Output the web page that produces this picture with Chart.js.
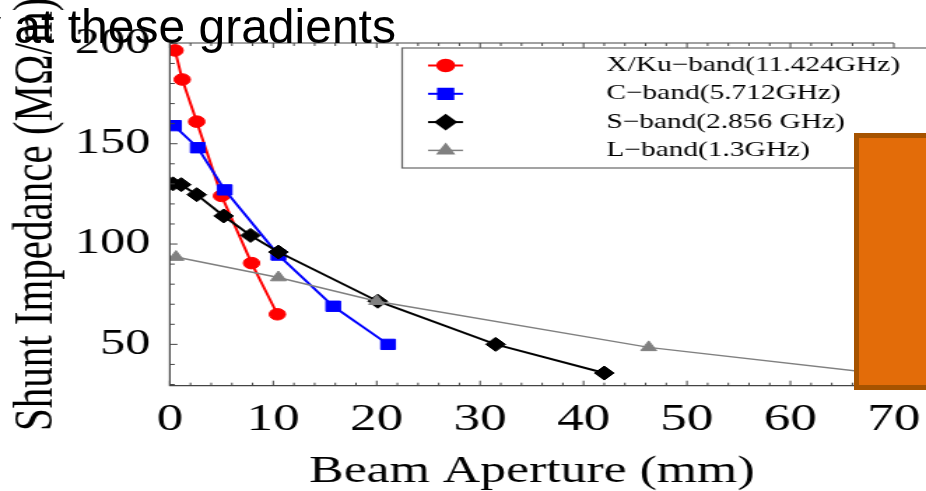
<!DOCTYPE html>
<html>
<head>
<meta charset="utf-8">
<script src="https://cdn.jsdelivr.net/npm/chart.js@4.4.1/dist/chart.umd.min.js"></script>
<style>
  html, body { margin: 0; padding: 0; background: #fff; width: 926px; height: 491px; overflow: hidden; }
  #wrap { position: absolute; left: 0; top: 0; width: 662px; height: 491px; transform: scaleX(1.3988); transform-origin: 0 0; }
  #box { position: absolute; left: 854px; top: 133px; width: 90px; height: 257px; box-sizing: border-box;
         background: #e36c09; border: 5px solid #a65300; }
  #title { position: absolute; left: -23px; top: 3px; font-family: "Liberation Sans", Arial, sans-serif;
           font-size: 48px; line-height: 48px; color: #000; white-space: nowrap; }
</style>
</head>
<body>
<div id="wrap"><canvas id="chart" width="662" height="491"></canvas></div>
<div id="box"></div>
<div id="title">y at these gradients</div>
<script>
// * data *
const seriesNames = ["X/Ku\u2212band(11.424GHz)", "C\u2212band(5.712GHz)", "S\u2212band(2.856 GHz)", "L\u2212band(1.3GHz)"];
const xkuAperture = [0.5, 1.2, 2.6, 5.0, 7.9, 10.4];
const xkuImpedance = [196.5, 182, 161, 124, 90.5, 65];
const cAperture = [0.4, 2.7, 5.3, 10.5, 15.8, 21.1];
const cImpedance = [159, 148, 127, 94.5, 69, 50];
const sAperture = [0.3, 1.1, 2.6, 5.2, 7.8, 10.5, 20.1, 31.5, 42.0];
const sImpedance = [130, 129.6, 124.6, 114, 104.3, 96, 71.5, 50, 35.7];
const lAperture = [0.6, 10.5, 20.0, 46.3, 70];
const lImpedance = [93.5, 83.3, 71.5, 48.5, 34.6];
const xTickLabels = [0, 10, 20, 30, 40, 50, 60, 70];
const yTickLabels = [50, 100, 150, 200];

const serif = "'Liberation Serif', 'Times New Roman', serif";

const toPoints = (xs, ys) => xs.map((v, i) => ({ x: v, y: ys[i] }));

const styles = [
    { color: "#ff0000", pointStyle: "circle", radius: 5.8, width: 2 },
    { color: "#0000ff", pointStyle: "rect", radius: 7.3, width: 2 },
    { color: "#000000", pointStyle: "rectRot", radius: 7, width: 2 },
    { color: "#808080", pointStyle: "triangle", radius: 6.5, width: 1.5 }
];
const seriesData = [
    toPoints(xkuAperture, xkuImpedance),
    toPoints(cAperture, cImpedance),
    toPoints(sAperture, sImpedance),
    toPoints(lAperture, lImpedance)
];

// * frame with inward ticks *
const frameTicks = {
    id: "frameTicks",
    afterDatasetsDraw(chart) {
        const { ctx, chartArea: a, scales: { x, y } } = chart;
        ctx.save();
        ctx.strokeStyle = "#444";
        ctx.lineWidth = 1.2;
        ctx.beginPath();
        ctx.moveTo(a.right, a.top);
        ctx.lineTo(a.left, a.top);
        ctx.lineTo(a.left, a.bottom);
        ctx.lineTo(a.right, a.bottom);
        ctx.stroke();
        ctx.lineWidth = 1;
        ctx.beginPath();
        for (let v = 0; v <= 70; v += 2) {
            const px = x.getPixelForValue(v);
            const len = v % 10 === 0 ? 5 : 3;
            ctx.moveTo(px, a.bottom); ctx.lineTo(px, a.bottom - len);
            ctx.moveTo(px, a.top); ctx.lineTo(px, a.top + len);
        }
        for (let v = 30; v <= 200; v += 10) {
            const py = y.getPixelForValue(v);
            const len = v % 50 === 0 ? 5.5 : 3.5;
            ctx.moveTo(a.left, py); ctx.lineTo(a.left + len, py);
        }
        ctx.stroke();
        ctx.restore();
    }
};

// * legend box drawn by hand (line + marker samples) *
const boxLegend = {
    id: "boxLegend",
    afterDraw(chart) {
        const { ctx } = chart;
        ctx.save();
        ctx.fillStyle = "#fff";
        ctx.fillRect(287.5, 48, 400, 120);
        ctx.strokeStyle = "#666";
        ctx.lineWidth = 1.2;
        ctx.strokeRect(287.5, 48, 400, 120);
        ctx.font = "21px " + serif;
        ctx.textBaseline = "middle";
        seriesNames.forEach((name, i) => {
            const st = styles[i];
            const cy = 65.5 + i * 28.3;
            ctx.strokeStyle = st.color;
            ctx.fillStyle = st.color;
            ctx.lineWidth = st.width;
            ctx.beginPath();
            ctx.moveTo(306, cy); ctx.lineTo(331, cy);
            ctx.stroke();
            Chart.helpers.drawPoint(ctx, { pointStyle: st.pointStyle, radius: st.radius, rotation: 0, borderWidth: 1 }, 318.6, cy);
            ctx.fillStyle = "#000";
            ctx.fillText(name, 433.5, cy);
        });
        ctx.restore();
    }
};

new Chart(document.getElementById("chart"), {
    type: "scatter",
    data: {
        datasets: seriesNames.map((name, i) => ({
            label: name,
            data: seriesData[i],
            showLine: true,
            borderColor: styles[i].color,
            backgroundColor: styles[i].color,
            borderWidth: styles[i].width,
            pointStyle: styles[i].pointStyle,
            pointRadius: styles[i].radius,
            pointBorderWidth: 1,
            order: 4 - i
        }))
    },
    options: {
        responsive: false,
        animation: false,
        events: [],
        layout: { padding: { top: 43, right: 19, left: 0, bottom: 0 } },
        plugins: { legend: { display: false }, tooltip: { enabled: false } },
        scales: {
            x: {
                type: "linear",
                min: 0,
                max: 70,
                afterBuildTicks: s => { s.ticks = xTickLabels.map(value => ({ value })); },
                afterFit: s => { s.height = 105.3; },
                grid: { display: false },
                border: { display: false },
                ticks: { color: "#000", padding: 4, font: { family: serif, size: 38 }, callback: v => String(v), maxRotation: 0 },
                title: { display: true, text: "Beam Aperture (mm)", color: "#000", padding: { top: 0, bottom: -3 }, font: { family: serif, size: 37 } }
            },
            y: {
                type: "linear",
                min: 29.4,
                max: 200.2,
                afterBuildTicks: s => { s.ticks = yTickLabels.map(value => ({ value })); },
                afterFit: s => { s.width = 121.4; },
                grid: { display: false },
                border: { display: false },
                ticks: { color: "#000", padding: 6, font: { family: serif, size: 36 }, callback: v => String(v) },
                title: { display: true, text: "Shunt Impedance (M\u03A9/m)", color: "#000", padding: { top: 2, bottom: 0 }, font: { family: serif, size: 41 } }
            }
        }
    },
    plugins: [frameTicks, boxLegend]
});
</script>
</body>
</html>
